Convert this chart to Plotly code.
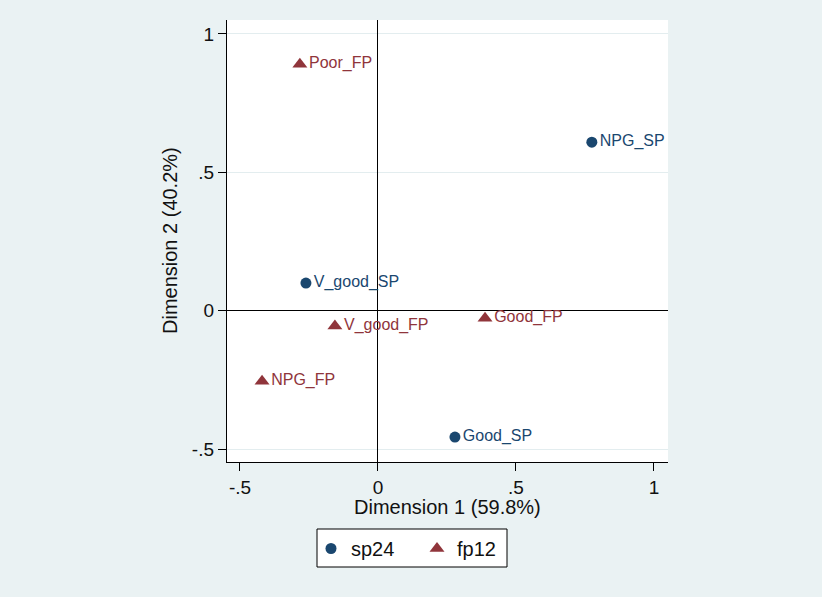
import plotly.graph_objects as go

# Data
sp24_labels = ["NPG_SP", "V_good_SP", "Good_SP"]
sp24_dim1 = [0.775, -0.261, 0.279]
sp24_dim2 = [0.609, 0.100, -0.456]

fp12_labels = ["Poor_FP", "V_good_FP", "Good_FP", "NPG_FP"]
fp12_dim1 = [-0.283, -0.156, 0.388, -0.420]
fp12_dim2 = [0.890, -0.055, -0.027, -0.254]

tick_vals = [-0.5, 0, 0.5, 1]
tick_text = ["-.5", "0", ".5", "1"]

BLUE = "#1a476f"
RED = "#90353b"
FONT = "Liberation Sans, Arial, Helvetica, sans-serif"

W, H = 822, 597
ML, MR, MT, MB = 227, 154, 20, 135
PW, PH = W - ML - MR, H - MT - MB


def px_x(p):
    return (p - ML) / PW


def px_y(p):
    return (H - MB - p) / PH


fig = go.Figure()
fig.add_trace(go.Scatter(
    x=sp24_dim1, y=sp24_dim2, mode="markers+text", name="sp24",
    text=sp24_labels, textposition="middle right",
    textfont=dict(color=BLUE, size=16, family=FONT),
    marker=dict(symbol="circle", size=11, color=BLUE),
    cliponaxis=False,
))
fig.add_trace(go.Scatter(
    x=fp12_dim1, y=fp12_dim2, mode="markers+text", name="fp12",
    text=fp12_labels, textposition="middle right",
    textfont=dict(color=RED, size=16, family=FONT),
    marker=dict(symbol="triangle-up", size=13, color=RED),
    cliponaxis=False,
))

fig.update_layout(
    width=W, height=H,
    margin=dict(l=ML, r=MR, t=MT, b=MB),
    paper_bgcolor="#eaf2f3",
    plot_bgcolor="white",
    font=dict(family=FONT, color="#111111", size=19),
    showlegend=True,
    legend=dict(
        orientation="h", xref="container", yref="container",
        x=311 / W, xanchor="left", y=1 - 529 / H, yanchor="top",
        bgcolor="rgba(0,0,0,0)", borderwidth=0,
        font=dict(size=20, family=FONT, color="#111111"),
        entrywidth=61,
    ),
    shapes=[
        dict(type="rect", xref="paper", yref="paper", layer="above",
             x0=px_x(317), x1=px_x(507), y0=px_y(567), y1=px_y(529),
             fillcolor="white", line=dict(color="black", width=1)),
    ],
    xaxis=dict(
        range=[-0.547, 1.051], tickvals=tick_vals, ticktext=tick_text,
        showgrid=False, zeroline=True, zerolinecolor="black", zerolinewidth=1.3,
        showline=True, linecolor="black", linewidth=1.3,
        ticks="outside", ticklen=8, tickcolor="black", tickwidth=1.3,
        tickfont=dict(size=19), fixedrange=True,
    ),
    yaxis=dict(
        range=[-0.546, 1.05], tickvals=tick_vals, ticktext=tick_text,
        showgrid=True, gridcolor="#e3edef", gridwidth=1,
        zeroline=True, zerolinecolor="black", zerolinewidth=1.3,
        showline=True, linecolor="black", linewidth=1.3,
        ticks="outside", ticklen=8, tickcolor="black", tickwidth=1.3,
        tickfont=dict(size=19), fixedrange=True,
    ),
    annotations=[
        dict(text="Dimension 1 (59.8%)", xref="paper", yref="paper",
             x=0.5, y=px_y(507), xanchor="center", yanchor="middle",
             showarrow=False, font=dict(size=20, family=FONT, color="#111111")),
        dict(text="Dimension 2 (40.2%)", xref="paper", yref="paper",
             x=px_x(170), y=0.5, xanchor="center", yanchor="middle",
             textangle=-90, showarrow=False,
             font=dict(size=20, family=FONT, color="#111111")),
    ],
)

fig.write_html("out.html")
